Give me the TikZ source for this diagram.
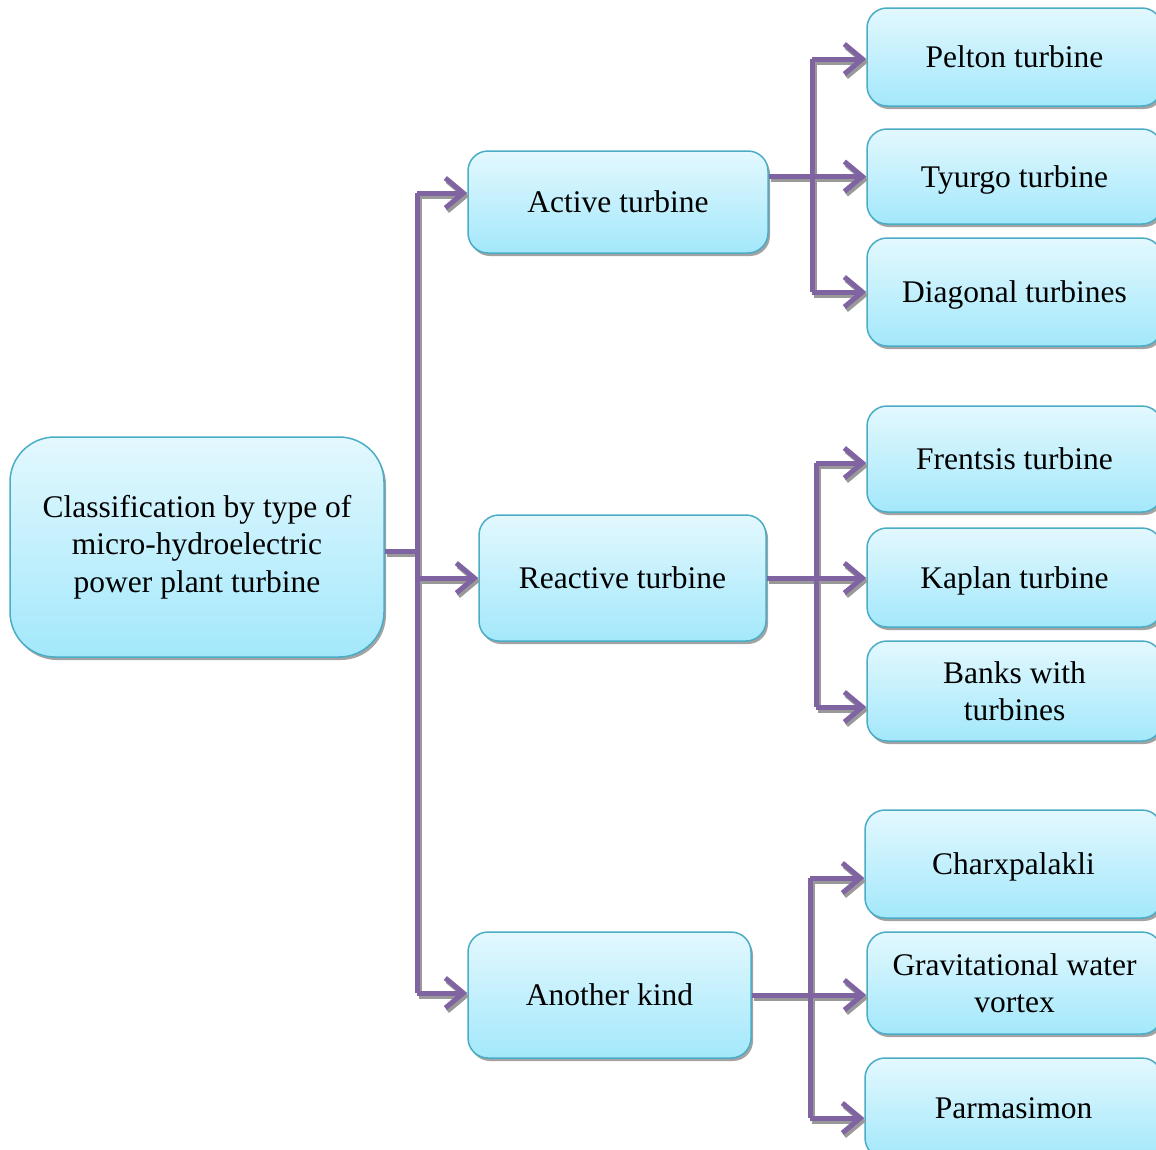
\documentclass[tikz,border=0pt]{standalone}
\usepackage{fontspec}
\setmainfont{Liberation Serif}
\usetikzlibrary{arrows.meta,shadows}
\definecolor{pline}{HTML}{8064A2}
\definecolor{bord}{HTML}{4BACC6}
\definecolor{ctop}{HTML}{E3F8FE}
\definecolor{cbot}{HTML}{A3E8FB}
\tikzset{
  box/.style={draw=bord, line width=1.5pt, rounded corners=20pt, top color=ctop, bottom color=cbot,
    align=center, font=\fontsize{31.5}{37.5}\selectfont, inner sep=0pt,
    drop shadow={shadow xshift=2pt, shadow yshift=-3pt, fill=black!45, opacity=0.8}},
  onel/.style={box, text height=27pt, text depth=6pt},
  conn/.style={draw=pline, line width=5pt},
  arr/.style={conn, -{Straight Barb[length=18pt,width=30pt]}},
}
\newcommand\myconns{%
  \draw[conn] (root.east |- ra) -- (ra);
  \draw[conn] (ta) -- (tc);
  \draw[arr] (ta) -- (ta -| active.west);
  \draw[arr] (tb) -- (tb -| reactive.west);
  \draw[arr] (tc) -- (tc -| another.west);
  \draw[conn] (a1) -- (a3);
  \draw[arr] (active.east |- tyurgo.west) -- (tyurgo.west);
  \draw[arr] (a1) -- (a1 -| pelton.west);
  \draw[arr] (a3) -- (a3 -| diag.west);
  \draw[conn] (b1) -- (b3);
  \draw[arr] (reactive.east) -- (reactive.east -| kaplan.west);
  \draw[arr] (b1) -- (b1 -| frentsis.west);
  \draw[arr] (b3) -- (b3 -| banks.west);
  \draw[conn] (c1) -- (c3);
  \draw[arr] (another.east) -- (another.east -| grav.west);
  \draw[arr] (c1) -- (c1 -| charx.west);
  \draw[arr] (c3) -- (c3 -| parm.west);
}
\begin{document}
\begin{tikzpicture}[x=1pt,y=-1pt]
\useasboundingbox (0,0) rectangle (1156,1149);
\clip (0,0) rectangle (1156,1149);
\node[box, minimum width=374pt, minimum height=220pt, rounded corners=45pt] (root) at (197,547)
  {Classification by type of\\micro-hydroelectric\\power plant turbine};
\node[onel, minimum width=300pt, minimum height=102pt] (active) at (618,202) {Active turbine};
\node[onel, minimum width=287pt, minimum height=126pt] (reactive) at (622.5,578) {Reactive turbine};
\node[onel, minimum width=283pt, minimum height=126pt] (another) at (609.5,995) {Another kind};
\node[onel, minimum width=295pt, minimum height=98pt] (pelton) at (1014.5,57) {Pelton turbine};
\node[onel, minimum width=295pt, minimum height=95pt] (tyurgo) at (1014.5,176.5) {Tyurgo turbine};
\node[onel, minimum width=295pt, minimum height=108pt] (diag) at (1014.5,292) {Diagonal turbines};
\node[onel, minimum width=295pt, minimum height=106pt] (frentsis) at (1014.5,459) {Frentsis turbine};
\node[onel, minimum width=295pt, minimum height=99pt] (kaplan) at (1014.5,577.5) {Kaplan turbine};
\node[box, minimum width=295pt, minimum height=100pt] (banks) at (1014.5,691) {Banks with\\turbines};
\node[onel, minimum width=297pt, minimum height=108pt] (charx) at (1013.5,864) {Charxpalakli};
\node[box, minimum width=295pt, minimum height=102pt] (grav) at (1014.5,983) {Gravitational water\\vortex};
\node[onel, minimum width=297pt, minimum height=100pt] (parm) at (1013.5,1108) {Parmasimon};
\coordinate (ra) at (417,551);
\coordinate (ta) at (417,193);
\coordinate (tb) at (417,578);
\coordinate (tc) at (417,993);
\coordinate (a1) at (812,59);
\coordinate (a3) at (812,292);
\coordinate (b1) at (816,463);
\coordinate (b3) at (816,707);
\coordinate (c1) at (810,878);
\coordinate (c3) at (810,1118);
\begin{scope}[transform canvas={shift={(2pt,-3pt)}}]
  \colorlet{pline}{black!40}
  \myconns
\end{scope}
\myconns
\end{tikzpicture}
\end{document}
